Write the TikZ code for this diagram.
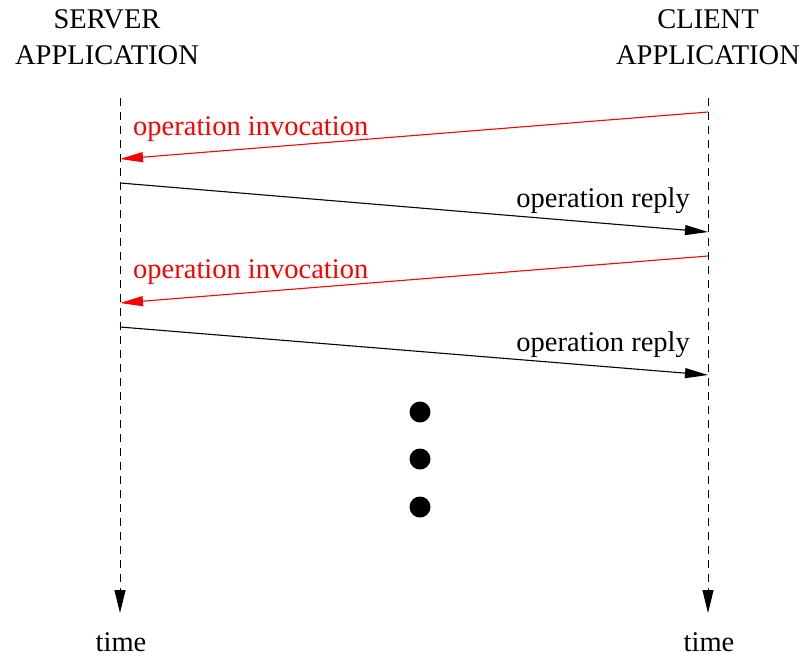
\documentclass[tikz,border=0pt]{standalone}
\usepackage{fontspec}
\setmainfont{Liberation Serif}
\usetikzlibrary{arrows.meta}
\begin{document}
\begin{tikzpicture}[x=1pt,y=-1pt,
  lbl/.style={font=\fontsize{28.5}{36}\selectfont, inner sep=0pt},
  lifeline/.style={draw=black, line width=1pt, dash pattern=on 8pt off 6pt, -{Triangle[length=23pt,width=11pt]}},
  msg/.style={line width=1.1pt, -{Triangle[length=23pt,width=10pt]}},
  dot/.style={circle, fill=black, minimum size=21pt, inner sep=0pt}]
  \useasboundingbox (0,0) rectangle (802,656);
  % participants (base anchor sits on the second line)
  \node[lbl, align=center, anchor=base] (srv) at (107,64) {SERVER\\APPLICATION};
  \node[lbl, align=center, anchor=base] (cli) at (708,64) {CLIENT\\APPLICATION};
  % lifeline end points
  \coordinate (s0) at (120,98);
  \coordinate (s1) at (120,613);
  \coordinate (c0) at (708,98);
  \coordinate (c1) at (708,613);
  \draw[lifeline] (s0) -- (s1);
  \draw[lifeline] (c0) -- (c1);
  \node[lbl, anchor=base] (ts) at (121,651) {time};
  \node[lbl, anchor=base] (tc) at (709,651) {time};
  % message anchors
  \coordinate (a1) at (708,112); \coordinate (b1) at (120,159);
  \coordinate (a2) at (120,183); \coordinate (b2) at (708,232);
  \coordinate (a3) at (708,256); \coordinate (b3) at (120,303);
  \coordinate (a4) at (120,327); \coordinate (b4) at (708,375);
  \draw[msg, red] (a1) -- (b1);
  \draw[msg] (a2) -- (b2);
  \draw[msg, red] (a3) -- (b3);
  \draw[msg] (a4) -- (b4);
  \node[lbl, red, anchor=base west] (l1) at (133,135) {operation invocation};
  \node[lbl, anchor=base east] (l2) at (690,207) {operation reply};
  \node[lbl, red, anchor=base west] (l3) at (133,278) {operation invocation};
  \node[lbl, anchor=base east] (l4) at (690,351) {operation reply};
  % continuation dots
  \node[dot] (d1) at (420,412) {};
  \node[dot] (d2) at (420,459) {};
  \node[dot] (d3) at (420,507) {};
\end{tikzpicture}
\end{document}
